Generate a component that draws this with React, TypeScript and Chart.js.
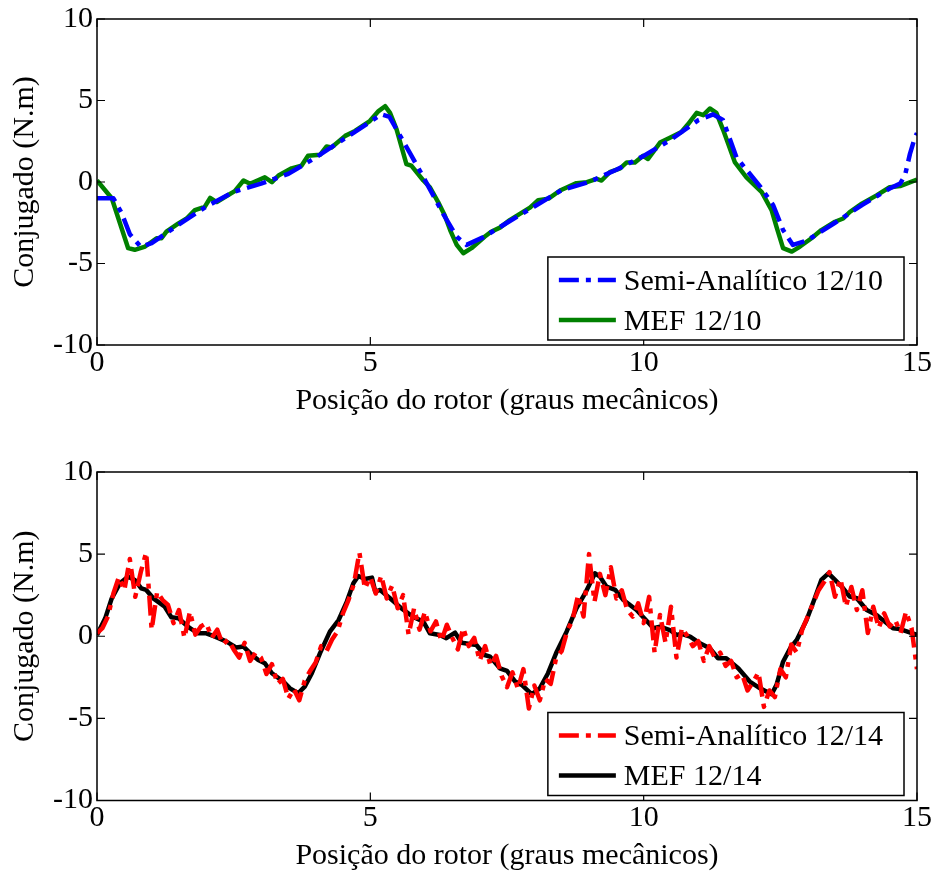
import React, { useEffect, useRef } from "react";
import { Chart, registerables } from "chart.js";
Chart.register(...registerables);

const FONT = "'Liberation Serif', 'Times New Roman', serif";

// ---------- axis ticks ----------
const xTickValues = [0, 5, 10, 15];
const yTickValues = [-10, -5, 0, 5, 10];
const xTitle = "Posição do rotor (graus mecânicos)";
const yTitle = "Conjugado (N.m)";

// ---------- top plot: 12/10 ----------
const semi1210Label = "Semi-Analítico 12/10";
const semi1210X = [0, 0.3, 0.45, 0.6, 0.8, 1.0, 1.5, 2.0, 2.5, 3.0, 3.5, 4.0, 4.5, 5.0, 5.2, 5.35, 5.5, 5.72, 5.97, 6.33, 6.58, 6.76, 7.06, 7.5, 8.0, 8.5, 9.0, 9.5, 10.0, 10.5, 11.0, 11.27, 11.45, 11.7, 12.14, 12.37, 12.55, 12.73, 12.98, 13.5, 14.0, 14.5, 14.69, 14.78, 14.87, 14.96, 15.0];
const semi1210Y = [-1.0, -1.0, -1.9, -3.2, -3.98, -3.75, -2.6, -1.5, -0.6, -0.1, 0.5, 1.5, 2.6, 3.7, 4.15, 4.0, 3.1, 1.8, 0.3, -1.94, -3.36, -3.86, -3.4, -2.5, -1.5, -0.5, 0.0, 0.75, 1.6, 2.6, 3.8, 4.15, 3.8, 1.5, -0.32, -1.43, -2.95, -3.86, -3.6, -2.5, -1.4, -0.4, -0.1, 0.4, 1.71, 2.72, 3.0];

const mef1210Label = "MEF 12/10";
const mef1210X = [0, 0.27, 0.57, 0.69, 0.88, 1.09, 1.18, 1.27, 1.49, 1.64, 1.79, 1.97, 2.07, 2.19, 2.34, 2.52, 2.68, 2.8, 3.07, 3.2, 3.32, 3.56, 3.74, 3.86, 4.08, 4.2, 4.29, 4.54, 4.72, 4.99, 5.15, 5.27, 5.36, 5.48, 5.66, 5.75, 5.97, 6.09, 6.24, 6.36, 6.46, 6.58, 6.7, 6.85, 7.09, 7.21, 7.37, 7.55, 7.92, 8.07, 8.26, 8.47, 8.77, 8.96, 9.14, 9.23, 9.38, 9.57, 9.69, 9.84, 9.99, 10.08, 10.3, 10.48, 10.69, 10.81, 10.97, 11.09, 11.21, 11.33, 11.45, 11.67, 11.88, 12.16, 12.34, 12.43, 12.55, 12.71, 12.86, 13.07, 13.25, 13.5, 13.65, 13.77, 13.99, 14.26, 14.5, 14.69, 15.0];
const mef1210Y = [0.1, -1.0, -4.06, -4.16, -3.96, -3.45, -3.45, -3.05, -2.54, -2.24, -1.73, -1.53, -0.98, -1.23, -0.92, -0.56, 0.09, -0.11, 0.29, -0.01, 0.4, 0.84, 1.0, 1.61, 1.67, 2.18, 2.12, 2.83, 3.13, 3.74, 4.35, 4.65, 4.24, 3.23, 1.1, 1.0, 0.09, -0.32, -1.23, -2.04, -2.95, -3.86, -4.37, -4.06, -3.36, -3.05, -2.8, -2.34, -1.57, -1.12, -1.02, -0.52, -0.07, -0.01, 0.19, 0.09, 0.6, 0.84, 1.2, 1.2, 1.61, 1.41, 2.42, 2.72, 3.07, 3.54, 4.24, 4.1, 4.51, 4.24, 3.23, 1.2, 0.29, -0.62, -1.73, -2.75, -4.06, -4.27, -3.96, -3.45, -2.95, -2.44, -2.24, -1.84, -1.33, -0.82, -0.32, -0.25, 0.15];

// ---------- bottom plot: 12/14 ----------
const semi1214Label = "Semi-Analítico 12/14";
const semi1214X = [0, 0.1, 0.2, 0.3, 0.4, 0.5, 0.6, 0.7, 0.8, 0.9, 1.0, 1.1, 1.2, 1.3, 1.4, 1.5, 1.6, 1.7, 1.8, 1.9, 2.0, 2.1, 2.2, 2.3, 2.4, 2.5, 2.6, 2.7, 2.8, 2.9, 3.0, 3.1, 3.2, 3.3, 3.4, 3.5, 3.6, 3.7, 3.8, 3.9, 4.0, 4.1, 4.2, 4.3, 4.4, 4.5, 4.6, 4.7, 4.8, 4.9, 5.0, 5.1, 5.2, 5.3, 5.4, 5.5, 5.6, 5.7, 5.8, 5.9, 6.0, 6.1, 6.2, 6.3, 6.4, 6.5, 6.6, 6.7, 6.8, 6.9, 7.0, 7.1, 7.2, 7.3, 7.4, 7.5, 7.6, 7.7, 7.8, 7.9, 8.0, 8.1, 8.2, 8.3, 8.4, 8.5, 8.6, 8.7, 8.8, 8.9, 9.0, 9.1, 9.2, 9.3, 9.4, 9.5, 9.6, 9.7, 9.8, 9.9, 10.0, 10.1, 10.2, 10.3, 10.4, 10.5, 10.6, 10.7, 10.8, 10.9, 11.0, 11.1, 11.2, 11.3, 11.4, 11.5, 11.6, 11.7, 11.8, 11.9, 12.0, 12.1, 12.2, 12.3, 12.4, 12.5, 12.6, 12.7, 12.8, 12.9, 13.0, 13.1, 13.2, 13.3, 13.4, 13.5, 13.6, 13.7, 13.8, 13.9, 14.0, 14.1, 14.2, 14.3, 14.4, 14.5, 14.6, 14.7, 14.8, 14.9, 15.0];
const semi1214Y = [0.2, 0.5, 1.2, 2.6, 3.6, 2.8, 4.7, 2.4, 3.9, 5.1, 0.4, 2.7, 2.2, 1.9, 0.8, 1.6, -0.1, 1.5, 0.1, 0.6, 0.8, -0.1, 0.4, -0.5, -0.2, -0.8, -1.3, -0.4, -1.5, -1.0, -1.3, -2.3, -1.7, -2.9, -2.6, -3.8, -3.2, -3.9, -2.7, -2.1, -1.6, -0.6, -0.9, -0.2, 0.3, 1.4, 2.2, 3.2, 5.1, 2.9, 3.6, 2.6, 3.7, 2.3, 3.1, 1.7, 2.5, 0.1, 1.7, 0.4, 1.5, 0.3, 0.9, -0.3, 0.7, -0.1, -0.8, 0.5, -0.6, -0.1, -1.5, -0.6, -1.8, -1.2, -2.4, -3.1, -2.2, -3.2, -2.0, -4.4, -3.0, -3.9, -2.6, -2.9, -1.3, -0.9, 0.3, 1.0, 2.5, 1.2, 5.0, 2.1, 3.8, 2.5, 4.2, 2.3, 2.8, 1.6, 1.2, 2.0, 0.8, 2.4, -1.0, 1.3, -0.4, 1.8, -1.3, 0.5, 0.0, -0.6, -0.3, -1.5, -0.6, -1.3, -1.0, -1.8, -1.5, -2.5, -2.3, -3.3, -2.8, -2.2, -4.3, -3.3, -3.7, -2.0, -2.5, -0.5, -1.0, 0.4, 1.2, 2.0, 2.8, 3.3, 3.9, 2.4, 3.5, 1.8, 3.0, 1.6, 2.8, 0.2, 1.8, 0.5, 1.4, 0.6, 1.0, 0.2, 1.5, 0.5, -2.0];

const mef1214Label = "MEF 12/14";
const mef1214X = [0, 0.15, 0.27, 0.42, 0.57, 0.69, 0.81, 0.9, 1.03, 1.24, 1.36, 1.49, 1.7, 1.85, 2.0, 2.16, 2.37, 2.55, 2.68, 2.8, 2.95, 3.07, 3.2, 3.41, 3.53, 3.68, 3.8, 3.93, 4.08, 4.26, 4.42, 4.57, 4.69, 4.78, 4.9, 5.03, 5.09, 5.18, 5.36, 5.57, 5.78, 5.97, 6.09, 6.27, 6.39, 6.55, 6.67, 6.94, 7.09, 7.19, 7.37, 7.5, 7.65, 7.77, 7.95, 8.1, 8.25, 8.41, 8.59, 8.77, 8.93, 9.11, 9.2, 9.32, 9.48, 9.63, 9.87, 10.18, 10.3, 10.48, 10.6, 10.69, 10.85, 11.03, 11.21, 11.36, 11.51, 11.73, 11.94, 12.13, 12.34, 12.43, 12.55, 12.68, 12.8, 12.98, 13.13, 13.25, 13.38, 13.5, 13.65, 13.77, 13.9, 14.08, 14.26, 14.41, 14.56, 14.69, 15.0];
const mef1214Y = [0.08, 1.09, 2.31, 3.23, 3.63, 3.43, 2.92, 2.82, 2.31, 1.8, 1.16, 1.1, 0.49, 0.18, 0.18, -0.02, -0.33, -0.69, -0.63, -1.03, -1.44, -1.64, -2.25, -2.76, -3.17, -3.47, -3.07, -2.25, -1.03, 0.28, 0.99, 2.11, 3.23, 3.67, 3.49, 3.57, 2.71, 2.82, 2.31, 1.7, 1.19, 0.89, 0.18, 0.08, -0.12, 0.22, -0.39, -0.53, -1.14, -1.24, -1.95, -2.11, -2.76, -2.96, -3.53, -3.17, -2.25, -0.94, 0.28, 1.7, 2.62, 3.83, 3.63, 3.02, 2.82, 2.21, 1.6, 0.49, 0.59, 0.38, 0.08, 0.14, -0.02, -0.43, -0.73, -1.34, -1.34, -1.95, -2.76, -3.17, -3.53, -2.96, -1.55, -0.73, -0.23, 0.99, 2.31, 3.43, 3.83, 3.43, 2.92, 2.41, 2.31, 1.6, 1.3, 0.89, 0.49, 0.44, 0.08];

type Series = { label: string; xs: number[]; ys: number[]; color: string; dash: number[] };

const DASHDOT = [20, 7, 5, 7];

function makeFramePlugin(items: Series[]) {
  return {
    id: "matlabFrame",
    afterDraw(chart: any) {
      const { ctx, chartArea: a, scales } = chart;
      const xs = scales.x;
      const ys = scales.y;
      ctx.save();
      ctx.strokeStyle = "#000";
      ctx.lineWidth = 1.5;
      ctx.setLineDash([]);
      ctx.strokeRect(a.left, a.top, a.right - a.left, a.bottom - a.top);
      const L = 8;
      ctx.lineWidth = 1.2;
      ctx.beginPath();
      xTickValues.forEach((v) => {
        const p = xs.getPixelForValue(v);
        ctx.moveTo(p, a.bottom);
        ctx.lineTo(p, a.bottom - L);
        ctx.moveTo(p, a.top);
        ctx.lineTo(p, a.top + L);
      });
      yTickValues.forEach((v) => {
        const p = ys.getPixelForValue(v);
        ctx.moveTo(a.left, p);
        ctx.lineTo(a.left + L, p);
        ctx.moveTo(a.right, p);
        ctx.lineTo(a.right - L, p);
      });
      ctx.stroke();

      // legend box (bottom-right, inside axes)
      ctx.font = `30px ${FONT}`;
      const textW = Math.max(...items.map((s) => ctx.measureText(s.label).width));
      const w = 76 + textW + 21;
      const h = 83;
      const right = a.right - 13;
      const bottom = a.bottom - 5;
      const left = right - w;
      const top = bottom - h;
      ctx.fillStyle = "#fff";
      ctx.fillRect(left, top, w, h);
      ctx.lineWidth = 1.5;
      ctx.strokeStyle = "#000";
      ctx.strokeRect(left, top, w, h);
      items.forEach((s, i) => {
        const cy = top + 23 + i * 40;
        ctx.beginPath();
        ctx.strokeStyle = s.color;
        ctx.lineWidth = 4.5;
        ctx.setLineDash(s.dash);
        ctx.moveTo(left + 11, cy);
        ctx.lineTo(left + 68, cy);
        ctx.stroke();
        ctx.setLineDash([]);
        ctx.fillStyle = "#000";
        ctx.textAlign = "left";
        ctx.textBaseline = "middle";
        ctx.fillText(s.label, left + 76, cy + 2);
      });
      ctx.restore();
    },
  };
}

type PlotProps = {
  series: Series[];
  top: number;
  height: number;
  padTop: number;
  xAxisHeight: number;
  titlePadBottom: number;
};

function Plot({ series, top, height, padTop, xAxisHeight, titlePadBottom }: PlotProps) {
  const ref = useRef<HTMLCanvasElement | null>(null);
  useEffect(() => {
    if (!ref.current) return;
    const tickFont = { family: FONT, size: 30, lineHeight: 1 };
    const chart = new Chart(ref.current, {
      type: "line",
      data: {
        datasets: series.map((s) => ({
          label: s.label,
          data: s.xs.map((x, i) => ({ x, y: s.ys[i] })),
          borderColor: s.color,
          backgroundColor: s.color,
          borderWidth: 4.5,
          borderDash: s.dash,
          borderJoinStyle: "round",
          borderCapStyle: "butt",
          pointRadius: 0,
          tension: 0,
          fill: false,
        })),
      },
      plugins: [makeFramePlugin(series)],
      options: {
        responsive: false,
        maintainAspectRatio: false,
        animation: false,
        devicePixelRatio: 1,
        events: [],
        layout: { padding: { top: padTop, right: 18, left: 0, bottom: 0 } },
        plugins: { legend: { display: false }, tooltip: { enabled: false } },
        scales: {
          x: {
            type: "linear",
            min: 0,
            max: 15,
            afterBuildTicks: (s: any) => {
              s.ticks = xTickValues.map((v) => ({ value: v }));
            },
            ticks: { color: "#000", font: tickFont, padding: 3, maxRotation: 0, autoSkip: false },
            grid: { display: false, drawTicks: false },
            border: { display: false },
            title: {
              display: true,
              text: xTitle,
              color: "#000",
              font: { family: FONT, size: 30, lineHeight: 1.2 },
              padding: { top: 0, bottom: titlePadBottom },
            },
            afterFit: (s: any) => {
              s.height = xAxisHeight;
            },
          },
          y: {
            type: "linear",
            min: -10,
            max: 10,
            afterBuildTicks: (s: any) => {
              s.ticks = yTickValues.map((v) => ({ value: v }));
            },
            ticks: { color: "#000", font: tickFont, padding: 4 },
            grid: { display: false, drawTicks: false },
            border: { display: false },
            title: {
              display: true,
              text: yTitle,
              color: "#000",
              font: { family: FONT, size: 30, lineHeight: 1.2 },
              padding: { top: 7, bottom: 0 },
            },
            afterFit: (s: any) => {
              s.width = 97;
            },
          },
        },
      } as any,
    });
    return () => chart.destroy();
  }, []);
  return (
    <div style={{ position: "absolute", left: 0, top, width: 935, height }}>
      <canvas ref={ref} width={935} height={height} style={{ display: "block" }} />
    </div>
  );
}

const topSeries: Series[] = [
  { label: semi1210Label, xs: semi1210X, ys: semi1210Y, color: "#0000ff", dash: DASHDOT },
  { label: mef1210Label, xs: mef1210X, ys: mef1210Y, color: "#008000", dash: [] },
];
const bottomSeries: Series[] = [
  { label: semi1214Label, xs: semi1214X, ys: semi1214Y, color: "#ff0000", dash: DASHDOT },
  { label: mef1214Label, xs: mef1214X, ys: mef1214Y, color: "#000000", dash: [] },
];

export default function App() {
  return (
    <div style={{ position: "absolute", left: 0, top: 0, width: 935, height: 874, background: "#fff" }}>
      <Plot series={topSeries} top={0} height={437} padTop={17} xAxisHeight={92} titlePadBottom={18} />
      <Plot series={bottomSeries} top={437} height={437} padTop={35} xAxisHeight={73.5} titlePadBottom={0} />
    </div>
  );
}
